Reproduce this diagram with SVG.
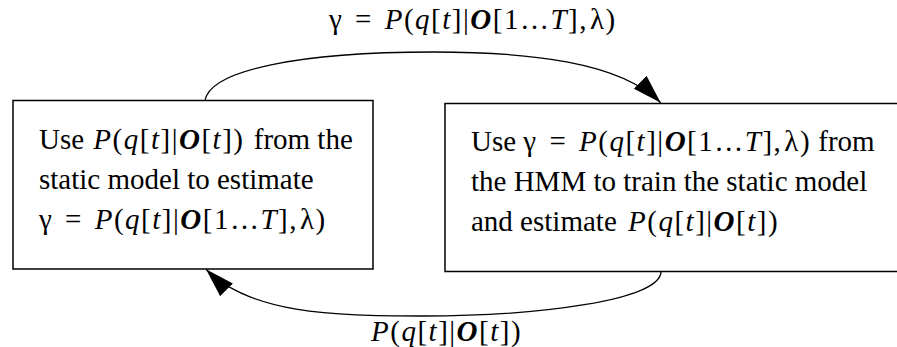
<svg xmlns="http://www.w3.org/2000/svg" width="897" height="347" viewBox="0 0 897 347">
<style>
.t{font-family:"Liberation Serif","Times New Roman",serif;font-size:29px;fill:#000}
.i{font-style:italic}
.b{font-style:italic;font-weight:bold}
.m{letter-spacing:1.5px}
.box{fill:#fff;stroke:#000;stroke-width:1.5}
.arc{fill:none;stroke:#000;stroke-width:1.3}
</style>
<defs>
<marker id="ah" markerUnits="userSpaceOnUse" viewBox="0 0 29 18" refX="29" refY="9" markerWidth="29" markerHeight="18" orient="auto">
<path d="M0,0 L29,9 L0,18 z" fill="#000"/>
</marker>
</defs>
<g id="node-left">
<rect class="box" x="13" y="100.5" width="360" height="168.5"/>
<text class="t" x="39" y="149">Use <tspan class="m" dx="2"><tspan class="i">P</tspan>(<tspan class="i">q</tspan>[<tspan class="i">t</tspan>]|<tspan class="b">O</tspan>[<tspan class="i">t</tspan>])</tspan> <tspan dx="2">from the</tspan></text>
<text class="t" x="39" y="189">static model to estimate</text>
<text class="t m" x="39" y="229">γ <tspan dx="3">=</tspan> <tspan class="i" dx="3">P</tspan>(<tspan class="i">q</tspan>[<tspan class="i">t</tspan>]|<tspan class="b">O</tspan>[1…<tspan class="i">T</tspan>],<tspan dx="2">λ)</tspan></text>
</g>
<g id="node-right">
<rect class="box" x="445" y="103.5" width="470" height="168"/>
<text class="t" x="471" y="150.5">Use <tspan class="m">γ <tspan dx="3">=</tspan> <tspan class="i" dx="3">P</tspan>(<tspan class="i">q</tspan>[<tspan class="i">t</tspan>]|<tspan class="b">O</tspan>[1…<tspan class="i">T</tspan>],<tspan dx="2">λ)</tspan></tspan> from</text>
<text class="t" x="471" y="190.5">the HMM to train the static model</text>
<text class="t" x="471" y="230.5">and estimate <tspan class="m" dx="4"><tspan class="i">P</tspan>(<tspan class="i">q</tspan>[<tspan class="i">t</tspan>]|<tspan class="b">O</tspan>[<tspan class="i">t</tspan>])</tspan></text>
</g>
<g id="connectors">
<path class="arc" d="M205,100.5 C210,70 300,52 433,52 C530,52 620,62 660.7,102.7" marker-end="url(#ah)"/>
<path class="arc" d="M661,271.5 C661,300 540,316 423,316 C330,316 250,313.3 206,269.3" marker-end="url(#ah)"/>
<text class="t m" x="329" y="28.5">γ <tspan dx="3">=</tspan> <tspan class="i" dx="3">P</tspan>(<tspan class="i">q</tspan>[<tspan class="i">t</tspan>]|<tspan class="b">O</tspan>[1…<tspan class="i">T</tspan>],<tspan dx="2">λ)</tspan></text>
<text class="t m" x="371" y="341"><tspan class="i">P</tspan>(<tspan class="i">q</tspan>[<tspan class="i">t</tspan>]|<tspan class="b">O</tspan>[<tspan class="i">t</tspan>])</text>
</g>
</svg>
